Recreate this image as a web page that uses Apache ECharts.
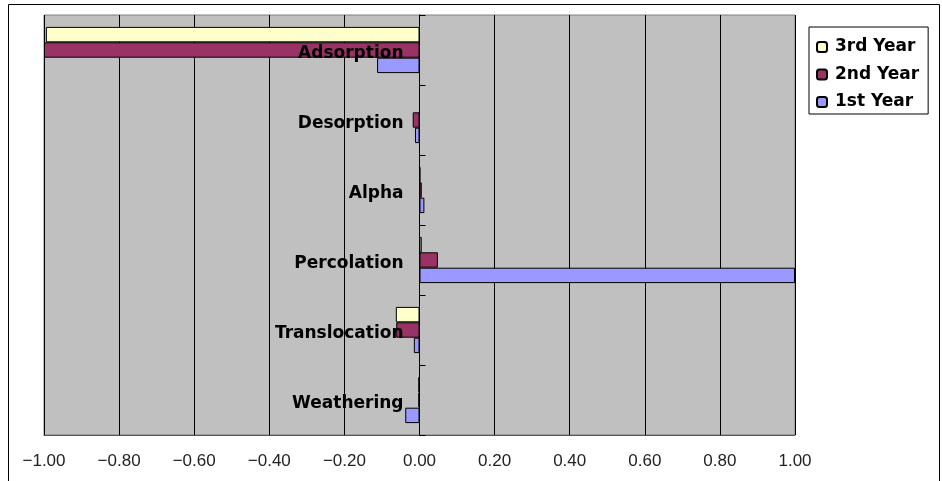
<!DOCTYPE html>
<html><head><meta charset="utf-8">
<script src="https://cdn.jsdelivr.net/npm/echarts@6/dist/echarts.min.js"></script>
<style>html,body{margin:0;padding:0;background:#fff}#c{width:942px;height:481px}</style>
</head><body><div id="c"></div>
<script>
var categories = ['Adsorption','Desorption','Alpha','Percolation','Translocation','Weathering'];
var seriesNames = ['3rd Year','2nd Year','1st Year'];
var year3 = [-0.995, 0.0, 0.002, 0.006, -0.063, -0.003];
var year2 = [-1.0, -0.018, 0.006, 0.049, -0.062, -0.003];
var year1 = [-0.113, -0.012, 0.013, 1.0, -0.015, -0.038];
var xTicks = {min: -1, max: 1, interval: 0.2};
var colors = ['#FFFFCC', '#993366', '#9999FF'];

var chart = echarts.init(document.getElementById('c'), null, {renderer: 'canvas'});
var values = [year3, year2, year1];
var gridLeft = 44, gridRight = 147;
var plotW = 942 - gridLeft - gridRight;
var zeroOffset = plotW * (0 - xTicks.min) / (xTicks.max - xTicks.min);
chart.setOption({
  animation: false,
  graphic: [{type: 'rect', shape: {x: 8.5, y: 4.5, width: 931, height: 520}, style: {fill: 'none', stroke: '#000', lineWidth: 1}, z: -1}],
  grid: {left: gridLeft, right: gridRight, top: 15, bottom: 46, containLabel: false, outerBoundsMode: 'none', show: true, backgroundColor: '#C0C0C0', borderColor: '#808080', borderWidth: 1},
  legend: {
    orient: 'vertical', left: 809, top: 27,
    itemWidth: 10, itemHeight: 10, itemGap: 9.5,
    backgroundColor: '#fff', borderColor: '#000', borderWidth: 1,
    padding: [11, 9, 3, 7],
    textStyle: {fontFamily: 'DejaVu Sans', fontWeight: 'bold', fontSize: 17, color: '#000', lineHeight: 18, padding: [0, 0, 0, 3]},
    data: seriesNames
  },
  xAxis: {
    type: 'value', min: xTicks.min, max: xTicks.max, interval: xTicks.interval,
    axisLine: {show: true, onZero: false, lineStyle: {color: '#555', width: 1}},
    axisTick: {show: false},
    splitLine: {show: true, lineStyle: {color: '#000', width: 1}},
    axisLabel: {fontFamily: 'Liberation Sans', fontSize: 17, color: '#222', margin: 18,
      formatter: function (v) { return (v < 0 ? '\u2212' : '') + Math.abs(v).toFixed(2); }}
  },
  yAxis: {
    type: 'category', data: categories, inverse: true, z: 10,
    offset: -zeroOffset,
    axisLine: {show: true, onZero: false, lineStyle: {color: '#000', width: 1}},
    axisTick: {show: true, inside: true, length: 6, lineStyle: {color: '#000'}},
    splitLine: {show: false},
    axisLabel: {margin: 16, verticalAlign: 'middle',
      formatter: function (v) { return '{a|' + v + '}'; },
      rich: {a: {fontFamily: 'DejaVu Sans', fontWeight: 'bold', fontSize: 17, color: '#000', padding: [8, 0, 0, 0]}}}
  },
  series: seriesNames.map(function (n, i) {
    return {
      name: n, type: 'bar', data: values[i], barGap: '0%', barCategoryGap: '34%',
      itemStyle: {color: colors[i], borderColor: '#000', borderWidth: 1}
    };
  })
});
</script></body></html>
